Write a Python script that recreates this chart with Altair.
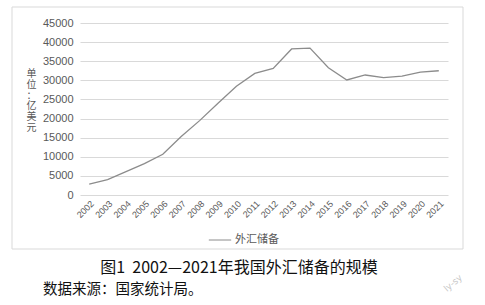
import altair as alt
import pandas as pd

years = [str(y) for y in range(2002, 2022)]
reserves = [2864, 4033, 6099, 8189, 10663, 15282, 19460, 23992, 28473, 31811,
            33116, 38213, 38430, 33304, 30105, 31399, 30727, 31079, 32165, 32502]
series_name = "外汇储备"
y_title_chars = ["单", "位", "：", "亿", "美", "元"]
fig_title = "图1\u00a0 2002—2021年我国外汇储备的规模"
source_text = "数据来源：国家统计局。"
watermark = "ly-sy"

df = pd.DataFrame({"year": years, "value": reserves, "series": series_name})

W, H = 368, 172
PL, PT = 80, 23
CJK = "Noto Sans CJK SC"

line = alt.Chart(df).mark_line(strokeWidth=1.3).encode(
    x=alt.X("year:O", title=None,
            scale=alt.Scale(paddingOuter=0.5),
            axis=alt.Axis(labelAngle=-45, labelFontSize=9, labelColor="#595959",
                          labelFont="Liberation Sans", ticks=False, domain=False,
                          labelPadding=4, grid=False)),
    y=alt.Y("value:Q", scale=alt.Scale(domain=[0, 45000], nice=False),
            axis=alt.Axis(values=list(range(0, 45001, 5000)), format="d",
                          labelFontSize=11,
                          labelColor="#595959", labelFont="Liberation Sans",
                          ticks=False, domain=False, labelPadding=7,
                          gridColor="#d9d9d9", gridWidth=1,
                          title=y_title_chars, titleAngle=0, titleFont=CJK,
                          titleFontSize=10, titleFontWeight="normal",
                          titleColor="#595959", titleLineHeight=10.8,
                          titleX=-49, titleY=45.5, titleAlign="center",
                          titleBaseline="top")),
    color=alt.Color("series:N", scale=alt.Scale(range=["#8c8c8c"]),
                    legend=alt.Legend(title=None, orient="none", legendX=128,
                                      legendY=205, symbolType="stroke",
                                      symbolSize=500, symbolStrokeWidth=1,
                                      labelFont=CJK, labelFontSize=11,
                                      labelColor="#595959", labelOffset=3)),
)

one = pd.DataFrame({"k": [0]})

box = alt.Chart(one).mark_rect(fill=None, stroke="#d9d9d9", strokeWidth=1).encode(
    x=alt.value(12 - PL), x2=alt.value(463 - PL),
    y=alt.value(7 - PT), y2=alt.value(249 - PT),
)

title_txt = alt.Chart(one).mark_text(font=CJK, fontSize=16, color="#111111",
                                     align="center", baseline="middle").encode(
    x=alt.value(239 - PL), y=alt.value(268 - PT), text=alt.value(fig_title))

source_txt = alt.Chart(one).mark_text(font=CJK, fontSize=14.5, color="#111111",
                                      align="left", baseline="middle").encode(
    x=alt.value(43 - PL), y=alt.value(290 - PT), text=alt.value(source_text))

wm_txt = alt.Chart(one).mark_text(font="DejaVu Sans", fontSize=9, color="#c8c8c8",
                                  angle=320, align="center", baseline="middle").encode(
    x=alt.value(453 - PL), y=alt.value(283 - PT), text=alt.value(watermark))

chart = alt.layer(box, line, title_txt, source_txt, wm_txt).properties(
    width=W, height=H,
    autosize=alt.AutoSizeParams(type="none"),
    padding={"left": PL, "top": PT, "right": 485 - PL - W, "bottom": 305 - PT - H},
    background="white",
).configure_view(stroke=None)

chart.save("out.html", embed_options={"renderer": "svg", "actions": False})
